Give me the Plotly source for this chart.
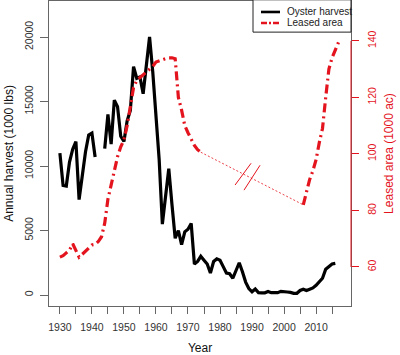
import plotly.graph_objects as go

# ---- data ----
harvest_years = list(range(1930, 2017))
harvest_values = [
    11000, 8500, 8450, 10300, 11300, 11900, 7400, 9300, 11100, 12400,  # 1930-1939
    12550, 10700, None, None, 11350, 14000, 11700, 15100, 14600, 12300,  # 1940-1949
    11900, 13500, 14300, 17700, 16800, 16900, 15600, 17800, 20000, 17300,  # 1950-1959
    14100, 10500, 5500, 7800, 9800, 7000, 4400, 5000, 3900, 4900,  # 1960-1969
    5100, 5550, 2400, 2600, 3000, 2700, 2400, 1700, 2600, 2800,  # 1970-1979
    2700, 2200, 1700, 1650, 1300, 1900, 2500, 1800, 1000, 500,  # 1980-1989
    250, 460, 180, 170, 170, 270, 180, 180, 180, 280,  # 1990-1999
    230, 230, 200, 130, 130, 350, 450, 350, 450, 550,  # 2000-2009
    750, 1000, 1300, 2000, 2200, 2400, 2450,  # 2010-2016
]

lease_years_early = list(range(1930, 1975))
lease_values_early = [
    63.5, 64, 65, 66, 68.2, 66, 63.5, 64.5, 65.5, 66.8,  # 1930-1939
    67.8, 68, 69, 70.7, 75.5, 84, 88.8, 94, 99, 102.5,  # 1940-1949
    105, 110, 117, 123.5, 126, 127, 128, 129, 130, 131,  # 1950-1959
    132.5, 133, 133.5, 133.7, 134, 134, 133.7, 120, 115.5, 110,  # 1960-1969
    107.5, 105, 103, 101.5, 100.6,  # 1970-1974
]
lease_years_late = list(range(2006, 2018))
lease_values_late = [82, 86.5, 91, 94, 98, 104, 109, 120, 130, 134, 137, 139.5]

# axis break marks ("//") on the dotted gap
break_mark_1_x = [1984.7, 1989.7]
break_mark_1_y = [89.0, 96.7]
break_mark_2_x = [1987.5, 1992.5]
break_mark_2_y = [87.2, 96.0]

x_tick_vals = list(range(1930, 2016, 5))
x_tick_text = [str(v) if v % 10 == 0 else "" for v in x_tick_vals]
left_tick_vals = [0, 5000, 10000, 15000, 20000]
left_tick_text = ["0", "5000", "10000", "15000", "20000"]
right_tick_vals = [60, 80, 100, 120, 140]
right_tick_text = ["60", "80", "100", "120", "140"]

series_names = ["Oyster harvest", "Leased area"]

RED = "#e4141e"
FONT = "Liberation Sans, Arial, sans-serif"
HARVEST_LINE = dict(color="black", width=3.2)
LEASE_LINE = dict(color=RED, width=3.2, dash="9px,4px,2px,4px")

fig = go.Figure()

fig.add_trace(go.Scatter(
    x=harvest_years, y=harvest_values, mode="lines", name=series_names[0],
    line=HARVEST_LINE, connectgaps=False, yaxis="y", showlegend=False,
))

fig.add_trace(go.Scatter(
    x=lease_years_early + [None] + lease_years_late,
    y=lease_values_early + [None] + lease_values_late,
    mode="lines", name=series_names[1],
    line=LEASE_LINE, connectgaps=False, yaxis="y2", showlegend=False,
))

# thin dotted connector across the data gap
fig.add_trace(go.Scatter(
    x=[lease_years_early[-1], lease_years_late[0]],
    y=[lease_values_early[-1], lease_values_late[0]],
    mode="lines", showlegend=False,
    line=dict(color=RED, width=0.8, dash="2px,2px"), yaxis="y2",
))
for bx, by in [(break_mark_1_x, break_mark_1_y), (break_mark_2_x, break_mark_2_y)]:
    fig.add_trace(go.Scatter(
        x=bx, y=by, mode="lines", showlegend=False,
        line=dict(color=RED, width=1), yaxis="y2",
    ))

# red right axis line over the value range
fig.add_shape(type="line", xref="paper", x0=1, x1=1, yref="y2",
              y0=right_tick_vals[0], y1=right_tick_vals[-1],
              line=dict(color=RED, width=1))

# compact legend box (R-style) in the top-right corner
fig.add_shape(type="rect", xref="paper", yref="paper",
              x0=0.6755, x1=1.0, y0=0.898, y1=1.004,
              line=dict(color="#222", width=1), fillcolor="white", layer="above")
for i, (name, ln) in enumerate(zip(series_names, [HARVEST_LINE, LEASE_LINE])):
    yy = 0.964 - i * 0.036
    fig.add_shape(type="line", xref="paper", yref="paper",
                  x0=0.702, x1=0.765, y0=yy, y1=yy, layer="above",
                  line=dict(color=ln["color"], width=2.6,
                            dash="6px,2px,2px,2px" if i == 1 else "solid"))
    fig.add_annotation(xref="paper", yref="paper", x=0.781, y=yy,
                       xanchor="left", yanchor="middle", showarrow=False,
                       text=name, font=dict(size=10, color="#222"))

fig.update_layout(
    width=400, height=355, autosize=False,
    margin=dict(l=49, r=49, t=1, b=49, autoexpand=False),
    paper_bgcolor="white", plot_bgcolor="white",
    font=dict(family=FONT, size=10, color="#333"),
    showlegend=False, hovermode=False,
    xaxis=dict(
        range=[1926.6, 2020.9], tickmode="array",
        tickvals=x_tick_vals, ticktext=x_tick_text,
        ticks="outside", ticklen=7, tickcolor="#666",
        showline=True, linecolor="#666", linewidth=1, mirror=True,
        showgrid=False, zeroline=False, automargin=False,
        tickfont=dict(size=10.5, color="#333"), ticklabelstandoff=4,
        title=dict(text="Year", font=dict(size=12, color="#111"), standoff=14),
    ),
    yaxis=dict(
        range=[-853, 22791], tickmode="array",
        tickvals=left_tick_vals, ticktext=left_tick_text,
        ticks="outside", ticklen=8, tickcolor="#666", tickangle=-90,
        showline=True, linecolor="#666", linewidth=1, mirror=True,
        showgrid=False, zeroline=False, automargin=False,
        tickfont=dict(size=10.5, color="#333"), ticklabelstandoff=3,
        title=dict(text="Annual harvest (1000 lbs)", font=dict(size=12, color="#111"), standoff=6),
    ),
    yaxis2=dict(
        range=[46.2, 154.1], tickmode="array",
        tickvals=right_tick_vals, ticktext=right_tick_text,
        overlaying="y", side="right",
        ticks="outside", ticklen=7, tickcolor=RED, tickangle=-90,
        showline=False, showgrid=False, zeroline=False, automargin=False,
        tickfont=dict(size=10.5, color=RED), ticklabelstandoff=4,
        title=dict(text="Leased area (1000 ac)", font=dict(size=12, color=RED), standoff=8),
    ),
)

fig.write_html("out.html", config={"displayModeBar": False},
               post_script="document.body.style.margin='0';document.body.style.padding='0';")
